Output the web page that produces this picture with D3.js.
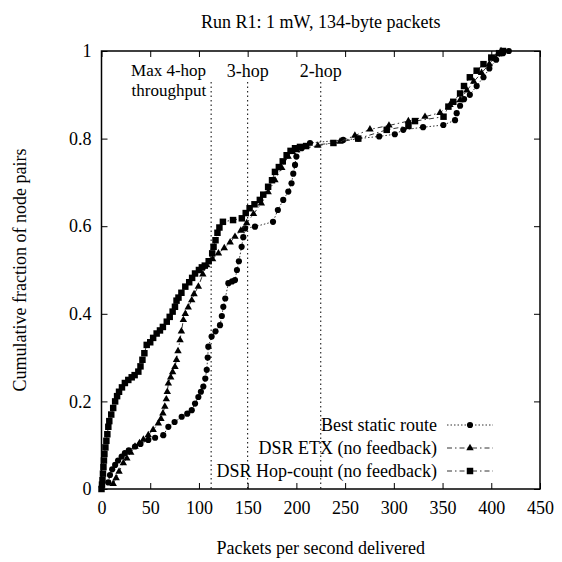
<!DOCTYPE html>
<html><head><meta charset="utf-8">
<script src="https://cdn.jsdelivr.net/npm/d3@7"></script>
<style>body{margin:0;background:#fff}svg{display:block}svg text{font-family:"Liberation Serif","DejaVu Serif",serif;fill:#000}</style>
</head><body><svg id="c" width="562" height="562"></svg>
<script>
const title = "Run R1: 1 mW, 134-byte packets";
const xLabel = "Packets per second delivered";
const yLabel = "Cumulative fraction of node pairs";
const xTicks = [0,50,100,150,200,250,300,350,400,450];
const yTicks = [0,0.2,0.4,0.6,0.8,1];
const yTickLabels = ["0","0.2","0.4","0.6","0.8","1"];
const seriesNames = ["Best static route","DSR ETX (no feedback)","DSR Hop-count (no feedback)"];
const hopLines = [112.5,150,225];
const hopLabels = [["Max 4-hop","throughput"],["3-hop"],["2-hop"]];

const staticX = [7,8.7,11,14,17,20.7,24,28,34.4,40,48,55,63.4,68.6,75,82.3,88,92.6,96,99.4,102,104.5,106.5,108,109,109.6,113,117,121.6,123.5,125,127,130.2,134,137,139,141,143.8,145.5,147.3,157.5,176,181,186.5,191.7,195,196.8,198.6,200,205.4,214,248,263.5,285,301,309.7,330,350.8,362.8,364.5,368,372,378,385,392,398,405,412,418];
const staticY = [0.015,0.032,0.045,0.055,0.065,0.074,0.082,0.088,0.097,0.103,0.112,0.117,0.123,0.142,0.153,0.165,0.172,0.18,0.195,0.21,0.222,0.234,0.252,0.272,0.3,0.325,0.348,0.36,0.374,0.395,0.416,0.435,0.47,0.474,0.477,0.5,0.52,0.553,0.575,0.595,0.599,0.61,0.637,0.66,0.679,0.698,0.72,0.74,0.759,0.778,0.79,0.797,0.8,0.805,0.81,0.82,0.826,0.831,0.842,0.858,0.875,0.89,0.9,0.92,0.94,0.96,0.98,0.995,1.0];

const etxX = [12,15,18,22.4,26,30,34.4,39,43,48,53,58.3,61,63,65,66.5,67.5,68.6,71,73,75.4,77,78.5,80.6,82,84,86,89,92.6,95,99.4,104,108,114,120,126,132,137,143,149,156,164,171,178,185,191.5,196,200.3,222,244.8,260,275.5,295,314.9,332,347.4,357.6,368,375,382,390,398,404,410];
const etxY = [0.012,0.025,0.04,0.059,0.07,0.083,0.097,0.105,0.113,0.123,0.135,0.15,0.16,0.173,0.188,0.205,0.222,0.241,0.255,0.267,0.279,0.295,0.315,0.34,0.36,0.386,0.4,0.415,0.431,0.445,0.462,0.49,0.511,0.525,0.538,0.55,0.563,0.576,0.59,0.607,0.628,0.652,0.678,0.705,0.733,0.759,0.77,0.774,0.784,0.793,0.807,0.821,0.83,0.84,0.85,0.859,0.877,0.888,0.91,0.93,0.95,0.97,0.985,1.0];

const hopX = [0,0.5,1,1.5,2,2.5,3,4,5,6,7,8,10,12,14,16,18,21,24,27.5,31,34,37.8,40,42,44,46.4,50,53,56.6,60,63,67,70,73,75.4,77,79,82,86,90,93,96,100,103,106,110,113.6,115,117,119,121,124.6,135,144,148,152,157,162.5,166,171,175,178,182,186,190,194,198.6,203.7,210,238,263.5,292.7,315,321.7,351,356,361,368,372,378,385,392,400,408,412];
const hopY = [0,0.01,0.02,0.035,0.05,0.065,0.08,0.095,0.11,0.125,0.142,0.155,0.17,0.185,0.2,0.212,0.222,0.232,0.242,0.249,0.255,0.26,0.268,0.28,0.295,0.31,0.329,0.335,0.345,0.355,0.362,0.37,0.382,0.393,0.405,0.416,0.43,0.437,0.448,0.462,0.472,0.482,0.492,0.5,0.506,0.51,0.52,0.538,0.553,0.568,0.585,0.597,0.61,0.614,0.618,0.63,0.641,0.65,0.66,0.672,0.69,0.705,0.724,0.735,0.748,0.762,0.772,0.778,0.781,0.783,0.79,0.8,0.82,0.829,0.84,0.85,0.873,0.884,0.903,0.92,0.94,0.955,0.97,0.985,0.995,1.0];

const L = 101.5, R = 540, T = 51, B = 489;
const fs = 18;
const FF = "Liberation Serif";
const svg = d3.select("#c");
const x = d3.scaleLinear().domain([0,450]).range([L,R]);
const y = d3.scaleLinear().domain([0,1]).range([B,T]);

hopLines.forEach(v=>{
  svg.append("line").attr("x1",x(v)).attr("x2",x(v)).attr("y1",82).attr("y2",B)
    .attr("stroke","#000").attr("stroke-width",1).attr("stroke-dasharray","1.5,3");
});
const hl = svg.append("g").attr("font-size",fs).attr("font-family",FF);
hopLabels[0].forEach((s,i)=>{
  hl.append("text").attr("x",x(hopLines[0])-5).attr("y",76+i*20).attr("font-size",17).attr("text-anchor","end").text(s);
});
hl.append("text").attr("x",x(hopLines[1])).attr("y",77).attr("text-anchor","middle").text(hopLabels[1][0]);
hl.append("text").attr("x",x(hopLines[2])).attr("y",77).attr("text-anchor","middle").text(hopLabels[2][0]);

const tickLen = 6;
const gx = svg.append("g").attr("transform",`translate(0,${B})`)
  .call(d3.axisBottom(x).tickValues(xTicks).tickSize(-tickLen).tickPadding(12).tickFormat(d3.format("d")));
const gxt = svg.append("g").attr("transform",`translate(0,${T})`)
  .call(d3.axisTop(x).tickValues(xTicks).tickSize(-tickLen).tickFormat(""));
const gy = svg.append("g").attr("transform",`translate(${L},0)`)
  .call(d3.axisLeft(y).tickValues(yTicks).tickSize(-tickLen).tickPadding(10).tickFormat((d,i)=>yTickLabels[i]));
const gyr = svg.append("g").attr("transform",`translate(${R},0)`)
  .call(d3.axisRight(y).tickValues(yTicks).tickSize(-tickLen).tickFormat(""));
[gx,gxt,gy,gyr].forEach(g=>{
  g.attr("font-family",FF).attr("font-size",fs);
  g.select(".domain").remove();
  g.selectAll("line").attr("stroke","#000").attr("stroke-width",1);
  g.selectAll("text").attr("font-size",fs).attr("font-family",FF);
});
svg.append("rect").attr("x",L).attr("y",T).attr("width",R-L).attr("height",B-T)
  .attr("fill","none").attr("stroke","#000").attr("stroke-width",1.5);

svg.append("text").attr("x",(L+R)/2).attr("y",28).attr("text-anchor","middle").attr("font-size",fs).attr("font-family",FF).text(title);
svg.append("text").attr("x",(L+R)/2).attr("y",554).attr("text-anchor","middle").attr("font-size",fs).attr("font-family",FF).text(xLabel);
svg.append("text").attr("transform",`translate(26,${(T+B)/2}) rotate(-90)`).attr("text-anchor","middle").attr("font-size",fs).attr("font-family",FF).text(yLabel);

const series = [
  {xs:staticX, ys:staticY, dash:"1.5,2", marker:"circle"},
  {xs:etxX, ys:etxY, dash:"5,3,1.5,3", marker:"triangle"},
  {xs:hopX, ys:hopY, dash:"5,3,1.5,3", marker:"square"}
];
const line = d3.line().x(d=>x(d[0])).y(d=>y(d[1]));
const symGen = {
  circle: d3.symbol().type(d3.symbolCircle).size(30),
  triangle: d3.symbol().type(d3.symbolTriangle).size(24),
  square: d3.symbol().type(d3.symbolSquare).size(42)
};
series.forEach(s=>{
  const pts = s.xs.map((v,i)=>[v,s.ys[i]]);
  svg.append("path").datum(pts).attr("d",line).attr("fill","none")
    .attr("stroke","#333").attr("stroke-width",1).attr("stroke-dasharray",s.dash);
  svg.append("g").selectAll("path").data(pts).join("path")
    .attr("transform",d=>`translate(${x(d[0])},${y(d[1])})`)
    .attr("d",symGen[s.marker]()).attr("fill","#000");
});

const legY = [425,448,471];
const lg = svg.append("g").attr("font-family",FF);
series.forEach((s,i)=>{
  lg.append("text").attr("x",437).attr("y",legY[i]).attr("dy","0.33em").attr("text-anchor","end").attr("font-size",fs).attr("font-family",FF).text(seriesNames[i]);
  lg.append("line").attr("x1",447).attr("x2",493).attr("y1",legY[i]).attr("y2",legY[i])
    .attr("stroke","#333").attr("stroke-width",1).attr("stroke-dasharray",s.dash);
  lg.append("path").attr("transform",`translate(470,${legY[i]})`).attr("d",symGen[s.marker]()).attr("fill","#000");
});
</script></body></html>
